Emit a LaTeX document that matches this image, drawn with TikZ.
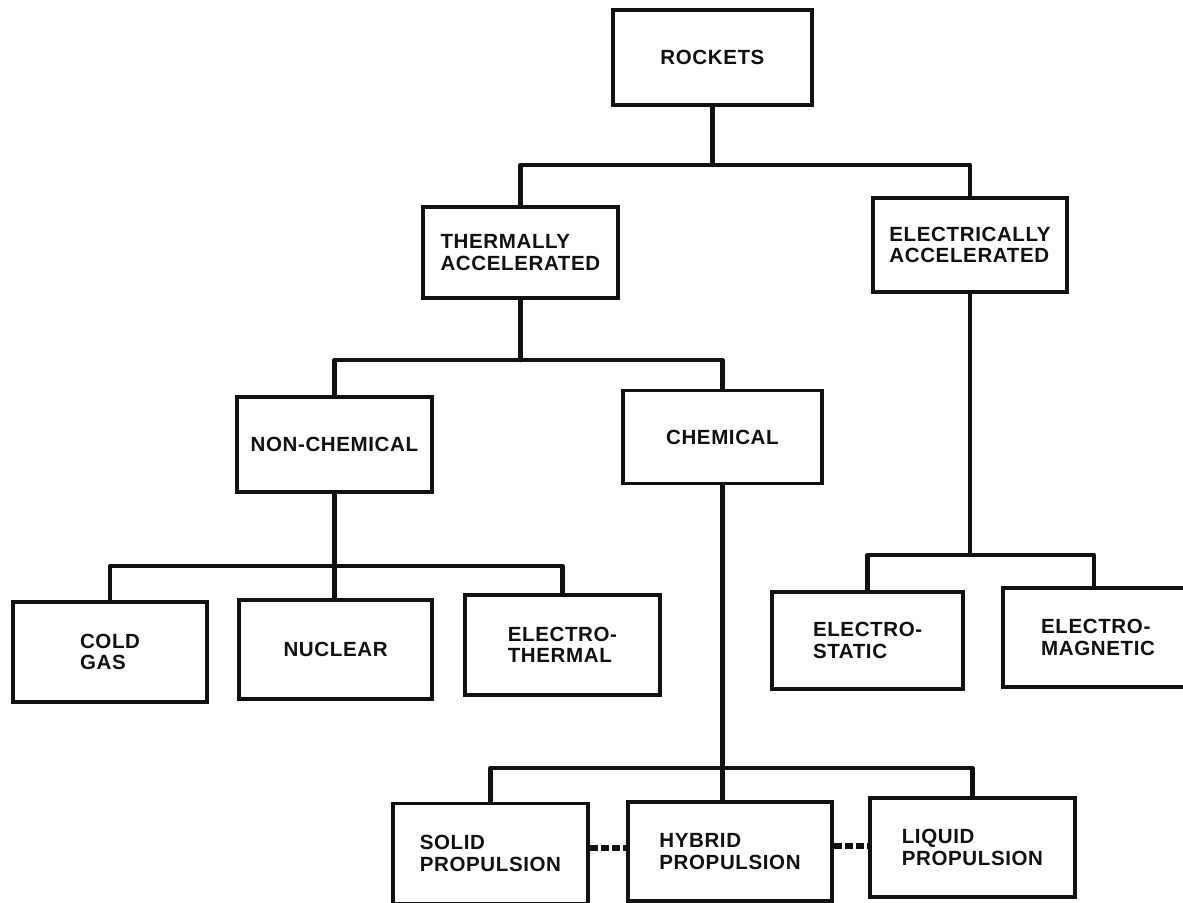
\documentclass[tikz,border=0pt]{standalone}
\usepackage{fontspec}
\setmainfont{Liberation Sans}[LetterSpace=3]
\usepackage{xcolor}
\usepackage{tikz}
\definecolor{RKInk}{HTML}{111111}

\begin{document}
\begin{tikzpicture}[x=1cm,y=1cm,
  rkbox/.style={draw=RKInk,line width=2.5pt,align=left,inner sep=0pt,
    minimum width=4.88cm,minimum height=2.4cm,
    font=\fontsize{14.6}{15.2}\selectfont\bfseries,text=RKInk},
  rkbus/.style={draw=RKInk,line width=3pt,line cap=round,line join=round},
  rklink/.style={draw=RKInk,line width=4pt,dash pattern=on 0.2cm off 0.08cm}]
\path[use as bounding box] (0,0) rectangle (29.575,22.575);
\node[rkbox,minimum width=4.98cm,minimum height=2.38cm] (rockets) at (17.81,21.14) {ROCKETS};
\node[rkbox,minimum height=2.28cm] (therm) at (13.01,16.26) {THERMALLY\\ACCELERATED};
\node[rkbox,minimum width=4.85cm,minimum height=2.35cm] (elec) at (24.25,16.45) {ELECTRICALLY\\ACCELERATED};
\node[rkbox,minimum height=2.38cm] (nonchem) at (8.36,11.46) {NON-CHEMICAL};
\node[rkbox,minimum width=4.98cm,minimum height=2.33cm] (chem) at (18.06,11.65) {CHEMICAL};
\node[rkbox,minimum width=4.85cm,minimum height=2.5cm] (cold) at (2.75,6.28) {COLD\\GAS};
\node[rkbox,minimum width=4.83cm,minimum height=2.48cm] (nuclear) at (8.39,6.34) {NUCLEAR};
\node[rkbox,minimum height=2.5cm] (ethermal) at (14.06,6.45) {ELECTRO-\\THERMAL};
\node[rkbox,minimum width=4.78cm,minimum height=2.43cm] (estatic) at (21.69,6.56) {ELECTRO-\\STATIC};
\node[rkbox,minimum width=4.75cm,minimum height=2.48cm] (emag) at (27.45,6.64) {ELECTRO-\\MAGNETIC};
\node[rkbox,minimum height=2.5cm] (solid) at (12.26,1.24) {SOLID\\PROPULSION};
\node[rkbox,minimum width=5.1cm,minimum height=2.48cm] (hybrid) at (18.25,1.29) {HYBRID\\PROPULSION};
\node[rkbox,minimum width=5.12cm,minimum height=2.48cm] (liquid) at (24.31,1.39) {LIQUID\\PROPULSION};
\coordinate (b1) at (17.81,18.45);
\coordinate (b2) at (13.01,13.57);
\coordinate (b3) at (24.25,8.70);
\coordinate (b4) at (8.36,8.43);
\coordinate (b5) at (18.06,3.38);
\draw[rkbus] (rockets.south) -- (b1);
\draw[rkbus] (therm.north) |- (b1) -| (elec.north);
\draw[rkbus] (therm.south) -- (b2);
\draw[rkbus] (nonchem.north) |- (b2) -| (chem.north);
\draw[rkbus] (nonchem.south) -- (nonchem.south |- nuclear.north);
\draw[rkbus] (cold.north) |- (b4) -| (ethermal.north);
\draw[rkbus] (elec.south) -- (b3);
\draw[rkbus] (estatic.north) |- (b3) -| ([xshift=-0.1cm]emag.north);
\draw[rkbus] (chem.south) -- (chem.south |- hybrid.north);
\draw[rkbus] (solid.north) |- (b5) -| (liquid.north);
\draw[rklink] ([yshift=4pt]solid.east) -- ([yshift=4pt]solid.east -| hybrid.west);
\draw[rklink] ([yshift=4pt]hybrid.east) -- ([yshift=4pt]hybrid.east -| liquid.west);
\end{tikzpicture}
\end{document}
